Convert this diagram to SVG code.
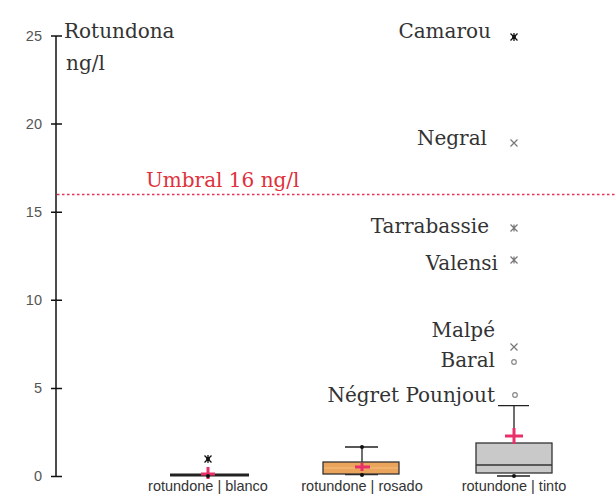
<svg xmlns="http://www.w3.org/2000/svg" width="616" height="495" viewBox="0 0 616 495">
<style>
.tick{font-family:"Liberation Sans",Arial,sans-serif;font-size:14.5px;fill:#555;text-anchor:end}
.ser{font-family:"DejaVu Serif","Liberation Serif",serif;font-size:20px;fill:#333}
.lab{font-family:"DejaVu Serif","Liberation Serif",serif;font-size:20px;fill:#333;text-anchor:end}
.cat{font-family:"Liberation Sans",Arial,sans-serif;font-size:14.5px;fill:#333;text-anchor:middle}
.ax{stroke:#111;stroke-width:1.5;fill:none}
.wh{stroke:#222;stroke-width:1.3;fill:none}
.mean{stroke:#e8306a;stroke-width:3;fill:none}
.x{stroke:#777;stroke-width:1.2;fill:none}
.o{stroke:#888;stroke-width:1.2;fill:none}
</style>
<rect width="616" height="495" fill="#fff"/>
<g id="axis">
<line class="ax" x1="56" y1="36" x2="56" y2="476.5"/>
<path class="ax" d="M51 36H62M51 124H62M51 212.2H62M51 300.3H62M51 388.4H62M51 476.5H62"/>
<text class="tick" x="42" y="41">25</text>
<text class="tick" x="42" y="129">20</text>
<text class="tick" x="42" y="217">15</text>
<text class="tick" x="42" y="305">10</text>
<text class="tick" x="42" y="393">5</text>
<text class="tick" x="42" y="481">0</text>
<text class="ser" x="64" y="38">Rotundona</text>
<text class="ser" x="66" y="70">ng/l</text>
</g>
<g id="threshold">
<line x1="57" y1="194.5" x2="616" y2="194.5" stroke="#e8305a" stroke-width="1.6" stroke-dasharray="2.5 2.5"/>
<text x="146" y="187" font-family="DejaVu Serif, Liberation Serif, serif" font-size="20" fill="#e0303c">Umbral 16 ng/l</text>
</g>
<g id="blanco">
<line x1="170" y1="475" x2="249" y2="475" stroke="#222" stroke-width="3"/>
<line class="mean" x1="201" y1="474" x2="215" y2="474"/>
<line class="mean" x1="208" y1="467" x2="208" y2="479"/>
<circle cx="208" cy="476" r="2" fill="#111"/>
<path d="M204.5 455.5L211.5 462.5M211.5 455.5L204.5 462.5M208 455V463" stroke="#111" stroke-width="1.3"/>
<circle cx="208" cy="459" r="2" fill="#111"/>
<text class="cat" x="208" y="491">rotundone | blanco</text>
</g>
<g id="rosado">
<path class="wh" d="M362 447V462M345 447H378M345 474.7H378"/>
<rect x="323" y="462" width="76" height="12" fill="#eaa45c" stroke="#333" stroke-width="1.3"/>
<line x1="324" y1="468" x2="398" y2="468" stroke="#f2c080" stroke-width="1"/>
<line class="mean" x1="355" y1="467" x2="370" y2="467"/>
<line class="mean" x1="362" y1="463" x2="362" y2="471"/>
<circle cx="362" cy="447" r="2" fill="#111"/>
<circle cx="362" cy="475" r="2" fill="#111"/>
<text class="cat" x="362" y="491">rotundone | rosado</text>
</g>
<g id="tinto">
<path class="wh" d="M514 405.7V443M498 405.7H529M497 476H530"/>
<rect x="476" y="443" width="76" height="30" fill="#c9c9c9" stroke="#333" stroke-width="1.3"/>
<line x1="476" y1="465" x2="552" y2="465" stroke="#333" stroke-width="1.3"/>
<line class="mean" x1="505" y1="436" x2="523" y2="436"/>
<line class="mean" x1="514" y1="428" x2="514" y2="444"/>
<circle cx="514" cy="476" r="2" fill="#111"/>
<text class="cat" x="514" y="491">rotundone | tinto</text>
</g>
<g id="outliers">
<path d="M510.5 33.5L517.5 40.5M517.5 33.5L510.5 40.5M514 33V41" stroke="#111" stroke-width="1.3"/>
<circle cx="514" cy="37" r="2" fill="#111"/>
<path class="x" d="M510.5 139.5L517.5 146.5M517.5 139.5L510.5 146.5"/>
<path class="x" d="M510.5 224.5L517.5 231.5M517.5 224.5L510.5 231.5M514 224.5V231.5"/>
<path class="x" d="M510.5 256.5L517.5 263.5M517.5 256.5L510.5 263.5M514 256.5V263.5"/>
<path class="x" d="M510.5 343.5L517.5 350.5M517.5 343.5L510.5 350.5"/>
<circle class="o" cx="514" cy="362" r="2.3"/>
<circle class="o" cx="515" cy="395" r="2.3"/>
</g>
<g id="labels">
<text class="lab" x="491" y="38">Camarou</text>
<text class="lab" x="487" y="145">Negral</text>
<text class="lab" x="489" y="233">Tarrabassie</text>
<text class="lab" x="498" y="270">Valensi</text>
<text class="lab" x="495" y="337">Malpé</text>
<text class="lab" x="495" y="367">Baral</text>
<text class="lab" x="495" y="402">Négret Pounjout</text>
</g>
</svg>
